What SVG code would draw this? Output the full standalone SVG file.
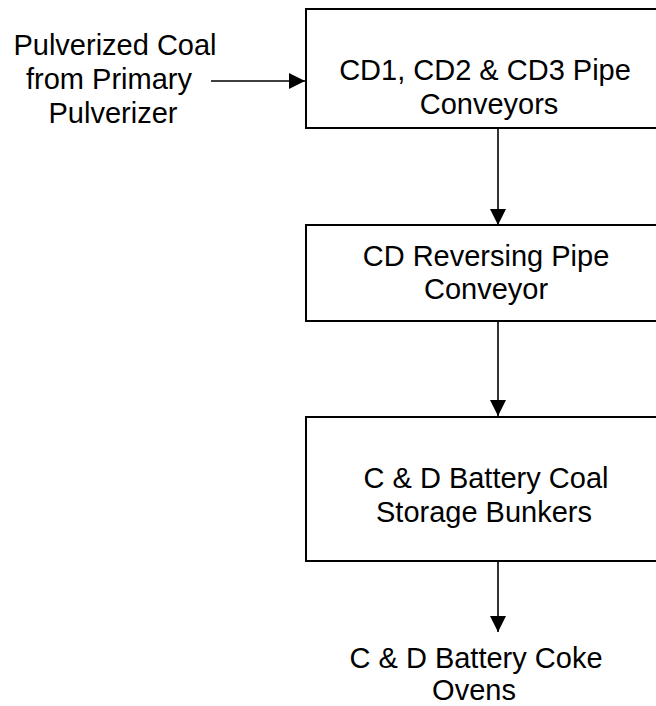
<svg xmlns="http://www.w3.org/2000/svg" width="656" height="706" viewBox="0 0 656 706">
<style>
.box{fill:#fff;stroke:#000;stroke-width:2}
.t{font-family:"Liberation Sans",Arial,sans-serif;font-size:29px;fill:#000;text-anchor:middle}
.c{stroke:#000;stroke-width:1.6;fill:none}
</style>
<defs>
<marker id="ah" markerUnits="userSpaceOnUse" markerWidth="16" markerHeight="16" refX="16" refY="8" orient="auto">
<path d="M0,0 L16,8 L0,16 Z" fill="#000"/>
</marker>
</defs>
<rect width="656" height="706" fill="#fff"/>
<g id="source">
<text class="t" x="115" y="55">Pulverized Coal</text>
<text class="t" x="109" y="89">from Primary</text>
<text class="t" x="113" y="123">Pulverizer</text>
</g>
<g id="pipe-conveyors">
<rect class="box" x="306" y="9" width="380" height="119"/>
<text class="t" x="485" y="80">CD1, CD2 &amp; CD3 Pipe</text>
<text class="t" x="489" y="114">Conveyors</text>
</g>
<g id="reversing-conveyor">
<rect class="box" x="306" y="225" width="380" height="96"/>
<text class="t" x="486" y="266">CD Reversing Pipe</text>
<text class="t" x="486" y="299">Conveyor</text>
</g>
<g id="storage-bunkers">
<rect class="box" x="306" y="417" width="380" height="144"/>
<text class="t" x="486" y="488">C &amp; D Battery Coal</text>
<text class="t" x="484" y="522">Storage Bunkers</text>
</g>
<g id="coke-ovens">
<text class="t" x="476" y="668">C &amp; D Battery Coke</text>
<text class="t" x="474" y="700">Ovens</text>
</g>
<g id="connectors">
<line class="c" x1="211" y1="81" x2="305" y2="81" marker-end="url(#ah)"/>
<line class="c" x1="498" y1="128" x2="498" y2="225" marker-end="url(#ah)"/>
<line class="c" x1="498" y1="321" x2="498" y2="416" marker-end="url(#ah)"/>
<line class="c" x1="498" y1="561" x2="498" y2="632" marker-end="url(#ah)"/>
</g>
</svg>
